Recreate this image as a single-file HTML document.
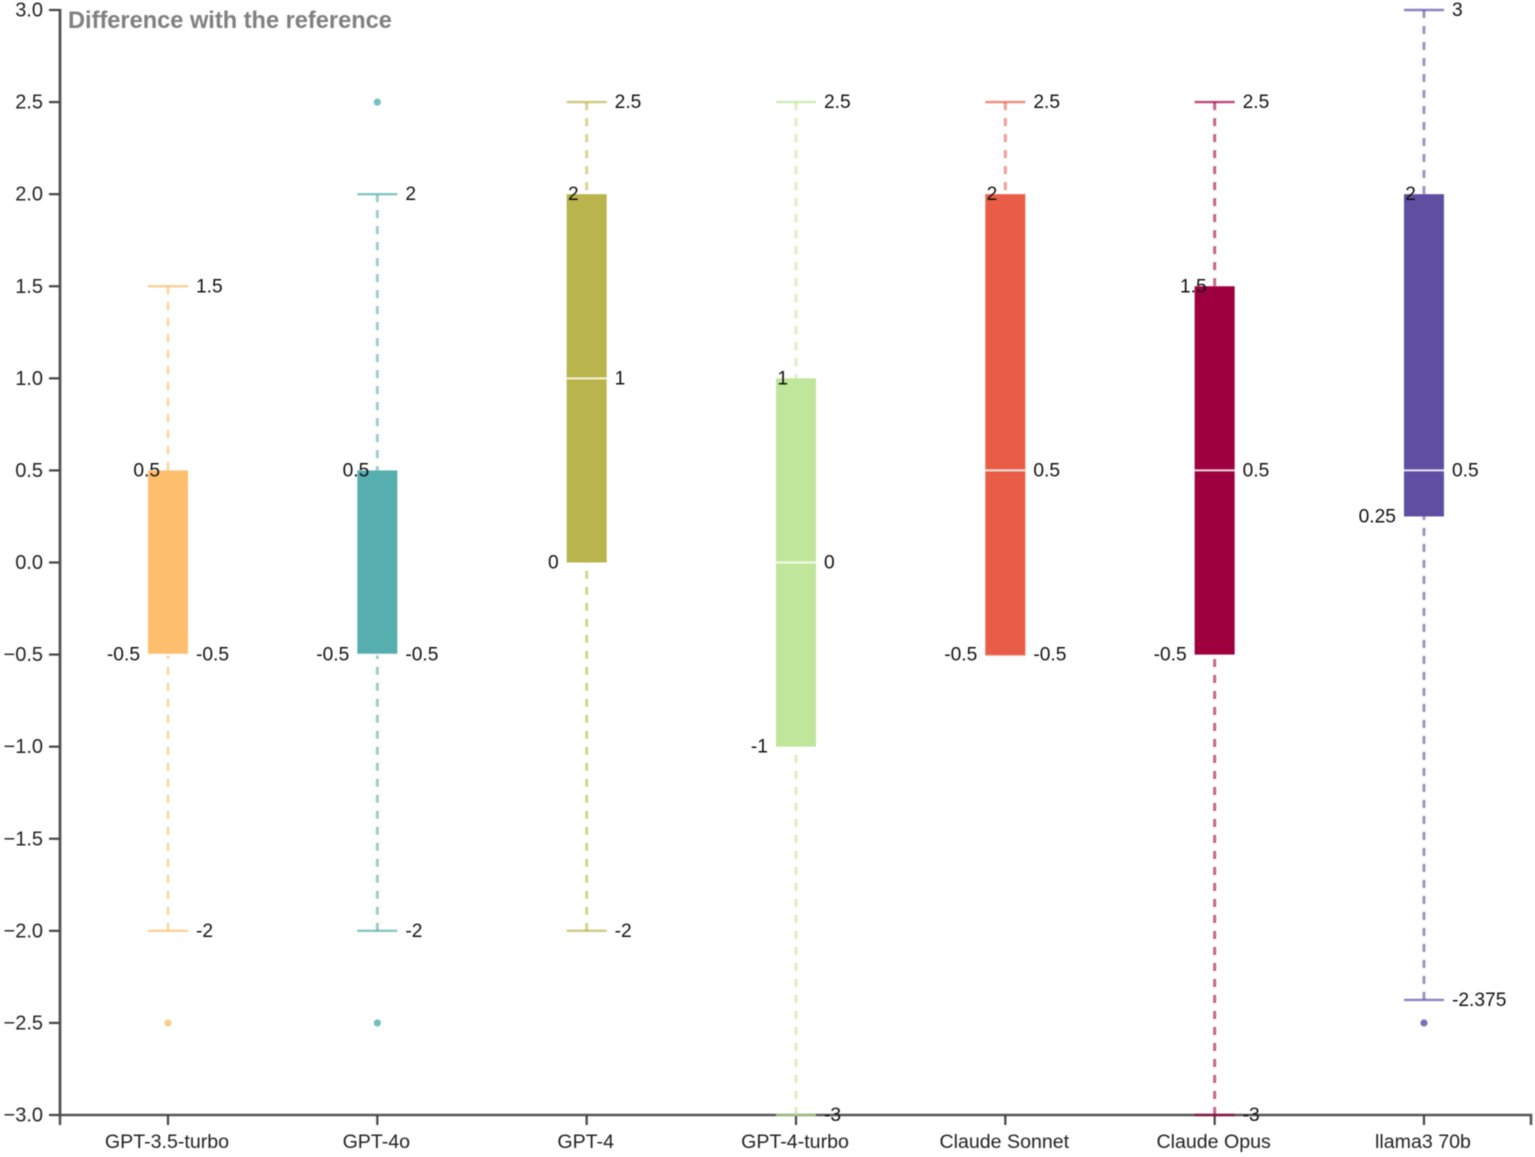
<!DOCTYPE html>
<html lang="en">
<head>
<meta charset="utf-8">
<title>Difference with the reference</title>
<style>
html,body{margin:0;padding:0;background:#fff;width:1535px;height:1157px;overflow:hidden}
svg{display:block;position:absolute;left:0;top:0;filter:blur(0.6px);font-family:"Liberation Sans",Arial,sans-serif}
</style>
</head>
<body>
<svg id="chart" xmlns="http://www.w3.org/2000/svg" width="1535" height="1157" viewBox="0 0 1535 1157">
  <rect x="0" y="0" width="1535" height="1157" fill="#fff"/>
  <g id="axes"></g>
  <g id="series"></g>
  <g id="value-labels"></g>
  <text x="68" y="28" font-size="23.6" font-weight="700" fill="#808080">Difference with the reference</text>
</svg>
<script>
const categories = ['GPT-3.5-turbo', 'GPT-4o', 'GPT-4', 'GPT-4-turbo', 'Claude Sonnet', 'Claude Opus', 'llama3 70b'];
const maxValues = [1.5, 2, 2.5, 2.5, 2.5, 2.5, 3];
const q3Values = [0.5, 0.5, 2, 1, 2, 1.5, 2];
const medianValues = [-0.5, -0.5, 1, 0, 0.5, 0.5, 0.5];
const q1Values = [-0.5, -0.5, 0, -1, -0.5, -0.5, 0.25];
const minValues = [-2, -2, -2, -3, -0.5, -3, -2.375];
const outlierValues = [[-2.5], [2.5, -2.5], [], [], [], [], [-2.5]];
const yTicks = [3, 2.5, 2, 1.5, 1, 0.5, 0, -0.5, -1, -1.5, -2, -2.5, -3];
const seriesColors = ['#fdbe6e', '#56aeae', '#bab44c', '#bfe69a', '#e95d47', '#9e003f', '#5e4fa2'];

const NS = 'http://www.w3.org/2000/svg';
const plot = { top: 10, bottom: 1115, left: 60, right: 1531, firstCenter: 168, step: 209.33 };
const yDomain = [-3, 3];

function yScale(v) {
  return plot.bottom - (v - yDomain[0]) / (yDomain[1] - yDomain[0]) * (plot.bottom - plot.top);
}
function xScale(i) {
  return plot.firstCenter + i * plot.step;
}
function make(tag, attrs, parent, text) {
  const node = document.createElementNS(NS, tag);
  Object.keys(attrs).forEach(function (k) { node.setAttribute(k, attrs[k]); });
  if (text !== undefined) node.textContent = text;
  parent.appendChild(node);
  return node;
}

const seriesRoot = document.getElementById('series');
const axesRoot = document.getElementById('axes');
const labelRoot = document.getElementById('value-labels');
const halfBox = 20;

/* axes */
const yLine = make('line', { x1: plot.left, x2: plot.left, y1: plot.top - 1, y2: plot.bottom, stroke: '#555', 'stroke-width': 2.8 }, axesRoot);


const xLine = make('path', { d: 'M' + plot.left + ' ' + (plot.bottom + 10) + 'V' + plot.bottom + 'H' + plot.right + 'V' + (plot.bottom + 10), fill: 'none', stroke: '#555', 'stroke-width': 2.6 }, axesRoot);



yTicks.forEach(function (t) {
  const y = yScale(t);
  const tick = make('line', { x1: plot.left - 11, x2: plot.left, y1: y, y2: y, stroke: '#444', 'stroke-width': 2.2 }, axesRoot);
  
  
  const label = make('text', { x: 43, y: y + 6.5, 'text-anchor': 'end', 'font-size': 20, fill: '#222' }, axesRoot, t.toFixed(1).replace('-', '\u2212'));
  
  
});

categories.forEach(function (name, i) {
  const cx = xScale(i);
  const tick = make('line', { x1: cx, x2: cx, y1: plot.bottom, y2: plot.bottom + 10, stroke: '#444', 'stroke-width': 2.2 }, axesRoot);
  
  
  const label = make('text', { x: cx - 1, y: 1148, 'text-anchor': 'middle', 'font-size': 19.6, fill: '#222' }, axesRoot, name);
  
  
});

/* series */
function valueLabel(v, x, anchor) {
  const label = make('text', { x: x, y: yScale(v) + 6, 'text-anchor': anchor, 'font-size': 19.2, fill: '#111' }, labelRoot, String(v));
  
  
}

categories.forEach(function (name, i) {
  const cx = xScale(i);
  const color = seriesColors[i];
  const g = make('g', {}, seriesRoot);
  
  

  const upper = make('line', { x1: cx, x2: cx, y1: yScale(maxValues[i]), y2: yScale(q3Values[i]), stroke: color, 'stroke-width': 3, 'stroke-dasharray': '8 8', 'stroke-opacity': 0.6 }, g);
  
  

  const lower = make('line', { x1: cx, x2: cx, y1: yScale(minValues[i]), y2: yScale(q1Values[i]), stroke: color, 'stroke-width': 3, 'stroke-dasharray': '8 8', 'stroke-opacity': 0.6 }, g);
  
  

  const box = make('rect', { x: cx - halfBox, width: halfBox * 2, y: yScale(q3Values[i]), height: yScale(q1Values[i]) - yScale(q3Values[i]), fill: color }, g);
  
  

  const med = make('line', { x1: cx - halfBox, x2: cx + halfBox, y1: yScale(medianValues[i]), y2: yScale(medianValues[i]), stroke: '#fff', 'stroke-width': 2, 'stroke-opacity': 0.85 }, g);
  
  

  const capTop = make('line', { x1: cx - halfBox, x2: cx + halfBox, y1: yScale(maxValues[i]), y2: yScale(maxValues[i]), stroke: color, 'stroke-width': 2.4, 'stroke-opacity': 0.7 }, g);
  
  

  const capBottom = make('line', { x1: cx - halfBox, x2: cx + halfBox, y1: yScale(minValues[i]), y2: yScale(minValues[i]), stroke: color, 'stroke-width': 2.4, 'stroke-opacity': 0.7 }, g);
  
  

  outlierValues[i].forEach(function (v) {
    const dot = make('circle', { cx: cx, cy: yScale(v), r: 3.6, fill: color, 'fill-opacity': 0.8 }, g);
    
    
  });

  valueLabel(maxValues[i], cx + 28, 'start');
  valueLabel(q3Values[i], cx - 8, 'end');
  valueLabel(medianValues[i], cx + 28, 'start');
  valueLabel(q1Values[i], cx - 28, 'end');
  valueLabel(minValues[i], cx + 28, 'start');
});
</script>
</body>
</html>
